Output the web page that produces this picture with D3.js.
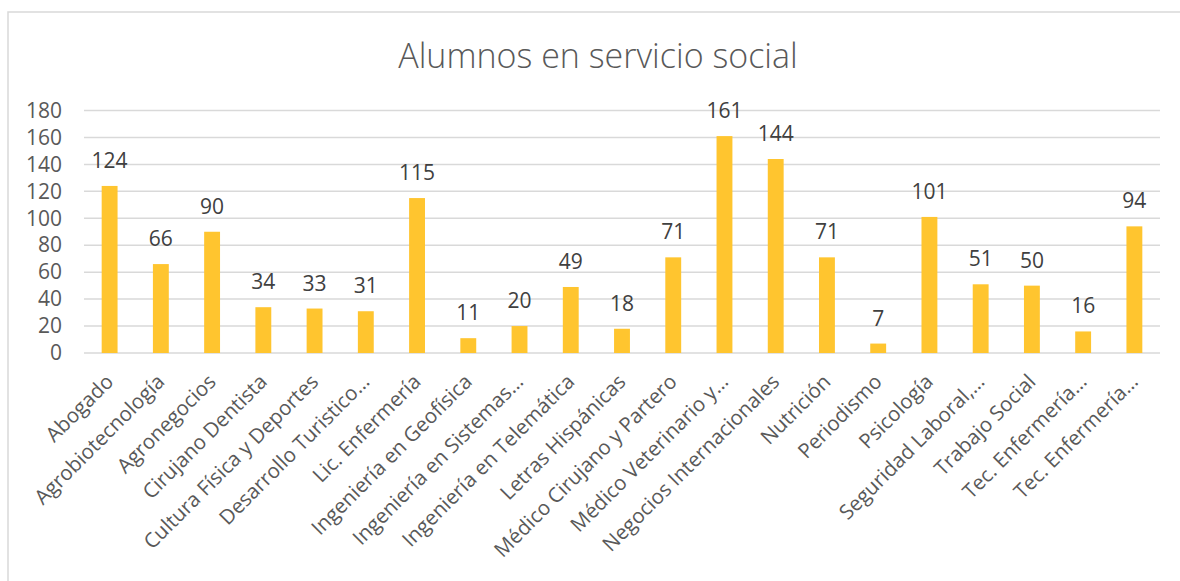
<!DOCTYPE html>
<html>
<head>
<meta charset="utf-8">
<script src="https://cdn.jsdelivr.net/npm/d3@7"></script>
<style>
  body { margin: 0; background: #fff; }
  text { font-family: "Open Sans", sans-serif; }
</style>
</head>
<body>
<div id="chart"></div>
<script>
// chart data
var carreras = ["Abogado", "Agrobiotecnología", "Agronegocios", "Cirujano Dentista",
    "Cultura Física y Deportes", "Desarrollo Turistico…", "Lic. Enfermería",
    "Ingeniería en Geofísica", "Ingeniería en Sistemas…", "Ingeniería en Telemática",
    "Letras Hispánicas", "Médico Cirujano y Partero", "Médico Veterinario y…",
    "Negocios Internacionales", "Nutrición", "Periodismo", "Psicología",
    "Seguridad Laboral,…", "Trabajo Social", "Tec. Enfermería…", "Tec. Enfermería…"];
var alumnos = [124, 66, 90, 34, 33, 31, 115, 11, 20, 49, 18, 71, 161, 144, 71, 7, 101, 51, 50, 16, 94];
var yTicks = [0, 20, 40, 60, 80, 100, 120, 140, 160, 180];
var titulo = "Alumnos en servicio social";

var svgWidth = 1180;
var svgHeight = 581;

var svg = d3.select("#chart")
    .append("svg")
    .attr("width", svgWidth)
    .attr("height", svgHeight);

// outer frame
svg.append("rect")
    .attr("x", 8)
    .attr("y", 12)
    .attr("width", 1190)
    .attr("height", 600)
    .attr("fill", "none")
    .attr("stroke", "#d9d9d9")
    .attr("stroke-width", 1.5);

// category index keys so duplicate names stay separate
var keys = alumnos.map((d, i) => i);

var x = d3.scaleBand()
    .domain(keys)
    .range([84, 1160])
    .paddingInner(0.69)
    .paddingOuter(0.345);

var y = d3.scaleLinear()
    .domain([0, 180])
    .range([353, 110.5]);

// gridlines
svg.append("g")
    .selectAll("line")
    .data(yTicks)
    .enter()
    .append("line")
    .attr("x1", 84)
    .attr("x2", 1160)
    .attr("y1", d => y(d))
    .attr("y2", d => y(d))
    .attr("stroke", "#d9d9d9")
    .attr("stroke-width", 1.5);

// y axis labels
var yAxis = d3.axisLeft(y).tickValues(yTicks).tickSize(0).tickPadding(0);
var yg = svg.append("g")
    .attr("transform", "translate(62,0)")
    .call(yAxis);
yg.select(".domain").remove();
yg.selectAll("text")
    .attr("font-family", "Open Sans, sans-serif")
    .attr("font-size", "21px")
    .attr("fill", "#595959");

// bars
svg.append("g")
    .selectAll("rect")
    .data(alumnos)
    .enter()
    .append("rect")
    .attr("x", (d, i) => x(i))
    .attr("y", d => y(d))
    .attr("width", x.bandwidth())
    .attr("height", d => y(0) - y(d))
    .attr("fill", "#ffc52f");

// value labels
svg.append("g")
    .selectAll("text")
    .data(alumnos)
    .enter()
    .append("text")
    .attr("x", (d, i) => x(i) + x.bandwidth() / 2)
    .attr("y", d => y(d) - 18)
    .attr("text-anchor", "middle")
    .attr("font-size", "21px")
    .attr("fill", "#404040")
    .text(d => d);

// x axis labels
svg.append("g")
    .selectAll("text")
    .data(carreras)
    .enter()
    .append("text")
    .attr("transform", (d, i) => `translate(${x(i) + x.bandwidth() / 2 + 5}, 383) rotate(-45)`)
    .attr("text-anchor", "end")
    .attr("font-size", "20.5px")
    .attr("fill", "#595959")
    .text(d => d);

// title
svg.append("text")
    .attr("x", 598)
    .attr("y", 68)
    .attr("text-anchor", "middle")
    .attr("font-size", "34px")
    .attr("font-weight", 300)
    .attr("fill", "#595959")
    .text(titulo);
</script>
</body>
</html>
